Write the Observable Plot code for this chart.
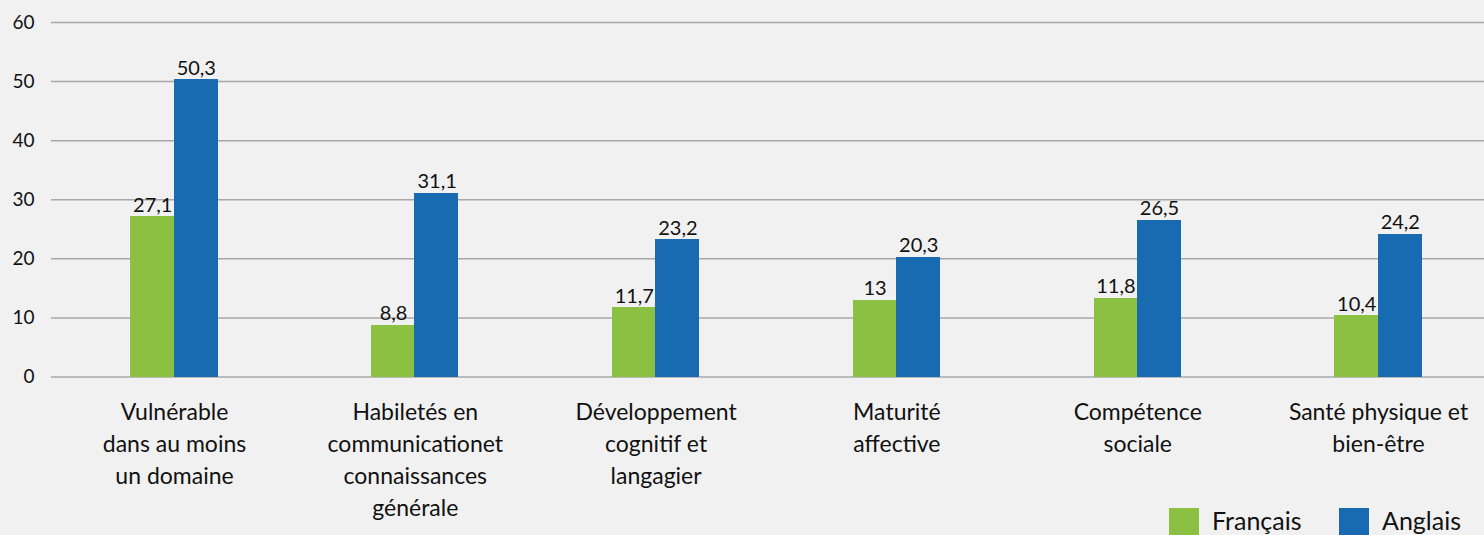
<!DOCTYPE html>
<html>
<head>
<meta charset="utf-8">
<script src="https://cdn.jsdelivr.net/npm/d3@7"></script>
<script src="https://cdn.jsdelivr.net/npm/@observablehq/plot@0.6"></script>
<style>
  html, body { margin: 0; padding: 0; background: #f1f1f1; overflow: hidden; }
  #wrap { position: relative; width: 1484px; height: 535px; background: #f1f1f1; font-family: Lato, "Open Sans", sans-serif; }
  .item { position: absolute; top: 508px; height: 27px; display: flex; align-items: flex-start; font-size: 25px; color: #111; }
  .sw { width: 30px; height: 30px; margin-right: 13px; flex: none; }
  .lab { line-height: 25px; margin-top: 0px; white-space: nowrap; }
</style>
</head>
<body>
<div id="wrap"></div>
<script>
const categories = [
  "Vulnérable\ndans au moins\nun domaine",
  "Habiletés en\ncommunicationet\nconnaissances\ngénérale",
  "Développement\ncognitif et\nlangagier",
  "Maturité\naffective",
  "Compétence\nsociale",
  "Santé physique et\nbien-être"
];
const series = ["Français", "Anglais"];
const francaisValues = [27.1, 8.8, 11.7, 13, 13.3, 10.4];
const francaisLabels = ["27,1", "8,8", "11,7", "13", "11,8", "10,4"];
const anglaisValues = [50.3, 31.1, 23.2, 20.3, 26.5, 24.2];
const anglaisLabels = ["50,3", "31,1", "23,2", "20,3", "26,5", "24,2"];
const yTicks = [0, 10, 20, 30, 40, 50, 60];
const colors = ["#8bc042", "#186bb0"];

const fr = categories.map((c, i) => ({cat: c, v: francaisValues[i], t: francaisLabels[i]}));
const en = categories.map((c, i) => ({cat: c, v: anglaisValues[i], t: anglaisLabels[i]}));

const W = 1484, H = 535;
const bandStart = 53.6, bandEnd = 1498.4;
const band = (bandEnd - bandStart) / categories.length;
const barW = 43.6;
const half = band / 2;

const chart = Plot.plot({
  width: W,
  height: H,
  marginLeft: 51,
  marginRight: 0,
  marginTop: 22,
  marginBottom: 158.5,
  style: {background: "#f1f1f1", fontFamily: "Lato, 'Open Sans', sans-serif", color: "#111"},
  x: {domain: categories, range: [bandStart, bandEnd], padding: 0, round: false},
  y: {domain: [0, 60], ticks: yTicks},
  marks: [
    Plot.gridY(yTicks, {stroke: "#a8a8a8", strokeOpacity: 1, strokeWidth: 1.5}),
    Plot.axisY(yTicks, {tickSize: 0, tickPadding: 17, fontSize: 19, label: null, fill: "#111"}),
    Plot.axisX({tickSize: 0, tickPadding: 20, fontSize: 23, lineHeight: 32 / 23, label: null, fill: "#111"}),
    Plot.barY(fr, {x: "cat", y: "v", fill: colors[0], insetLeft: half - barW, insetRight: half - 0.5, shapeRendering: "crispEdges"}),
    Plot.barY(en, {x: "cat", y: "v", fill: colors[1], insetLeft: half - 0.5, insetRight: half - barW, shapeRendering: "crispEdges"}),
    Plot.text(fr, {x: "cat", y: "v", text: "t", dx: -barW / 2, dy: -5, lineAnchor: "bottom", fontSize: 20, fill: "#111"}),
    Plot.text(en, {x: "cat", y: "v", text: "t", dx: barW / 2, dy: -5, lineAnchor: "bottom", fontSize: 20, fill: "#111"})
  ]
});

const wrap = document.getElementById("wrap");
wrap.appendChild(chart);

const legendLeft = [1169, 1339];
series.forEach((s, i) => {
  const item = document.createElement("div");
  item.className = "item";
  item.style.left = legendLeft[i] + "px";
  const sw = document.createElement("div");
  sw.className = "sw";
  sw.style.background = colors[i];
  const lab = document.createElement("div");
  lab.className = "lab";
  lab.textContent = s;
  item.appendChild(sw);
  item.appendChild(lab);
  wrap.appendChild(item);
});
</script>
</body>
</html>
